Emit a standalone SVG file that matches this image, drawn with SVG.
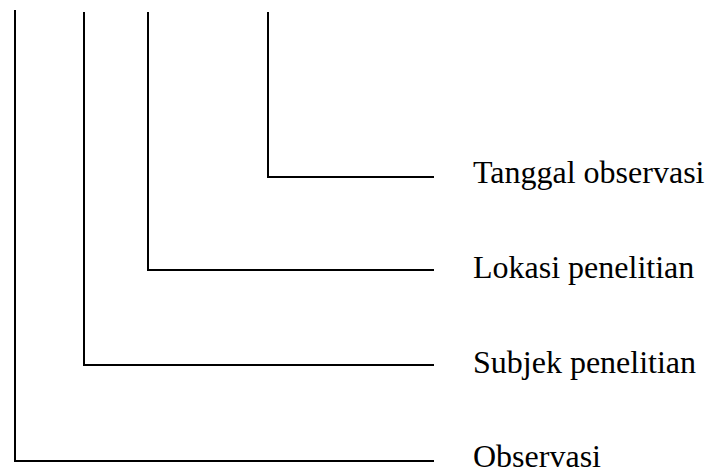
<svg xmlns="http://www.w3.org/2000/svg" width="711" height="475" viewBox="0 0 711 475">
  <style>
    .ln { fill: none; stroke: #000; stroke-width: 2; }
    .lbl { font-family: "Liberation Serif", "Times New Roman", serif; font-size: 32px; fill: #000; }
  </style>
  <rect width="711" height="475" fill="#fff"/>
  <g id="connectors">
    <polyline class="ln" points="15,10 15,461 434,461"/>
    <polyline class="ln" points="84,12 84,365 434,365"/>
    <polyline class="ln" points="148,12 148,270 434,270"/>
    <polyline class="ln" points="268,12 268,177 434,177"/>
  </g>
  <g id="tanggal">
    <text class="lbl" x="473" y="183">Tanggal observasi</text>
  </g>
  <g id="lokasi">
    <text class="lbl" x="473" y="278">Lokasi penelitian</text>
  </g>
  <g id="subjek">
    <text class="lbl" x="473" y="373">Subjek penelitian</text>
  </g>
  <g id="observasi">
    <text class="lbl" x="473" y="467">Observasi</text>
  </g>
</svg>
